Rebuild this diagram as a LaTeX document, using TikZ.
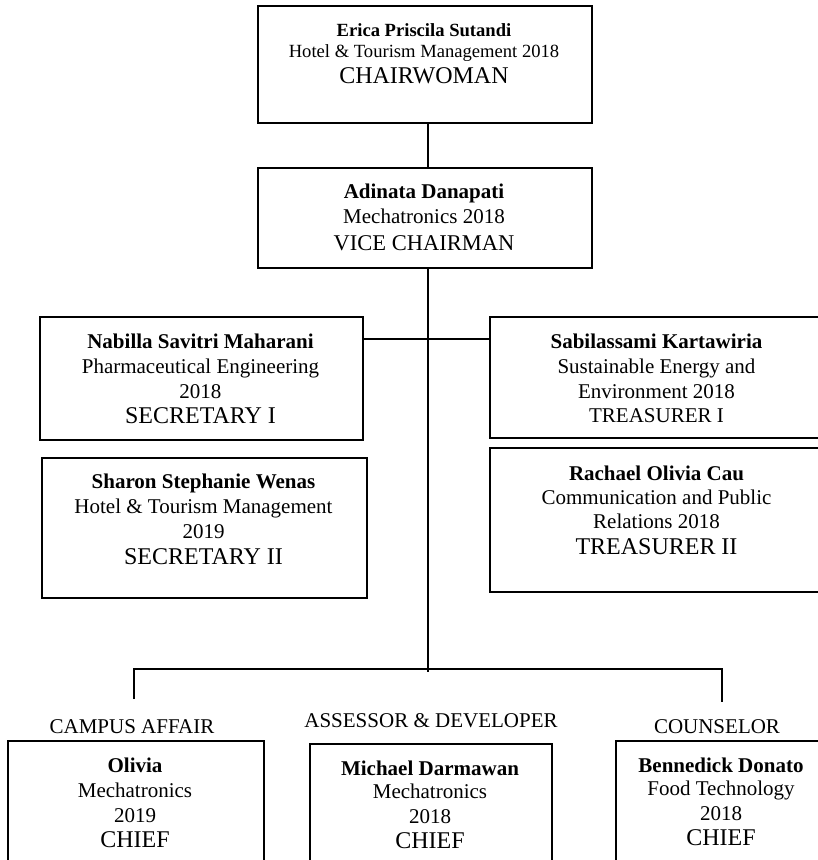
\documentclass[tikz,border=0pt]{standalone}
\usepackage{fontspec}
\setmainfont{Liberation Serif}
\usepackage{array}
\newcommand\roleT[1]{{\fontsize{24}{25}\selectfont #1}}
\newcommand\smallT[1]{{\fontsize{18.6}{25}\selectfont #1}}
\newcommand\cardT[1]{\begin{tabular}[t]{@{}c@{}}#1\end{tabular}}
\begin{document}
\begin{tikzpicture}[x=1pt,y=-1pt,
  box/.style={draw, line width=1.7pt, rectangle, inner sep=0pt, anchor=north west},
  txt/.style={inner sep=0pt, anchor=base, font=\fontsize{21}{25}\selectfont},
  conn/.style={line width=1.7pt}]
\useasboundingbox (0,0) rectangle (818,860);

% boxes
\node[box, minimum width=334pt, minimum height=117pt] (chair) at (257,5) {};
\node[box, minimum width=334pt, minimum height=100pt] (vc) at (257,167) {};
\node[box, minimum width=323pt, minimum height=123pt] (sec1) at (39,316) {};
\node[box, minimum width=325pt, minimum height=140pt] (sec2) at (41,457) {};
\node[box, minimum width=335pt, minimum height=121pt] (tres1) at (489,316) {};
\node[box, minimum width=335pt, minimum height=144pt] (tres2) at (489,447) {};
\node[box, minimum width=256pt, minimum height=140pt] (b1) at (7,740) {};
\node[box, minimum width=242pt, minimum height=137pt] (b2) at (309,743) {};
\node[box, minimum width=212pt, minimum height=140pt] (b3) at (615,740) {};

% texts
\node[txt] (chairT) at (424,36) {\cardT{\smallT{\textbf{Erica Priscila Sutandi}}\\[-4pt] \smallT{Hotel \& Tourism Management 2018}\\[1pt] \roleT{CHAIRWOMAN}}};
\node[txt] (vcT) at (424,198) {\cardT{\textbf{Adinata Danapati}\\ Mechatronics 2018\\[2pt] {\fontsize{22.5}{25}\selectfont VICE CHAIRMAN}}};
\node[txt] (sec1T) at (200.5,348) {\cardT{\textbf{Nabilla Savitri Maharani}\\ Pharmaceutical Engineering\\ 2018\\ \roleT{SECRETARY I}}};
\node[txt] (sec2T) at (203.5,488) {\cardT{\textbf{Sharon Stephanie Wenas}\\ Hotel \& Tourism Management\\ 2019\\[1pt] \roleT{SECRETARY II}}};
\node[txt] (tres1T) at (656.5,348) {\cardT{\textbf{Sabilassami Kartawiria}\\ Sustainable Energy and\\ Environment 2018\\[-1pt] TREASURER I}};
\node[txt] (tres2T) at (656.5,480) {\cardT{\textbf{Rachael Olivia Cau}\\[-1pt] Communication and Public\\[-1pt] Relations 2018\\[1pt] \roleT{TREASURER II}}};
\node[txt] (b1T) at (135,772) {\cardT{\textbf{Olivia}\\ Mechatronics\\ 2019\\ \roleT{CHIEF}}};
\node[txt] (b2T) at (430,775) {\cardT{\textbf{Michael Darmawan}\\[-2pt] Mechatronics\\ 2018\\ \roleT{CHIEF}}};
\node[txt] (b3T) at (721,772) {\cardT{\textbf{Bennedick Donato}\\[-2pt] Food Technology\\ 2018\\ \roleT{CHIEF}}};

% section labels
\node[txt] (lab1) at (132,733) {CAMPUS AFFAIR};
\node[txt] (lab2) at (431,727) {ASSESSOR \& DEVELOPER};
\node[txt] (lab3) at (717,733) {COUNSELOR};

% connectors
\coordinate (spine) at (428,0);
\coordinate (hy) at (0,339);
\coordinate (bus) at (428,672);
\coordinate (busL) at (134,669);
\coordinate (busR) at (722,669);
\coordinate (dropL) at (134,699);
\coordinate (dropR) at (722,702);

\draw[conn] (chair.south -| spine) -- (vc.north -| spine);
\draw[conn] (vc.south -| spine) -- (bus);
\draw[conn] (sec1.east |- hy) -- (tres1.west |- hy);
\draw[conn] (dropL) -- (busL) -- (busR) -- (dropR);
\end{tikzpicture}
\end{document}
